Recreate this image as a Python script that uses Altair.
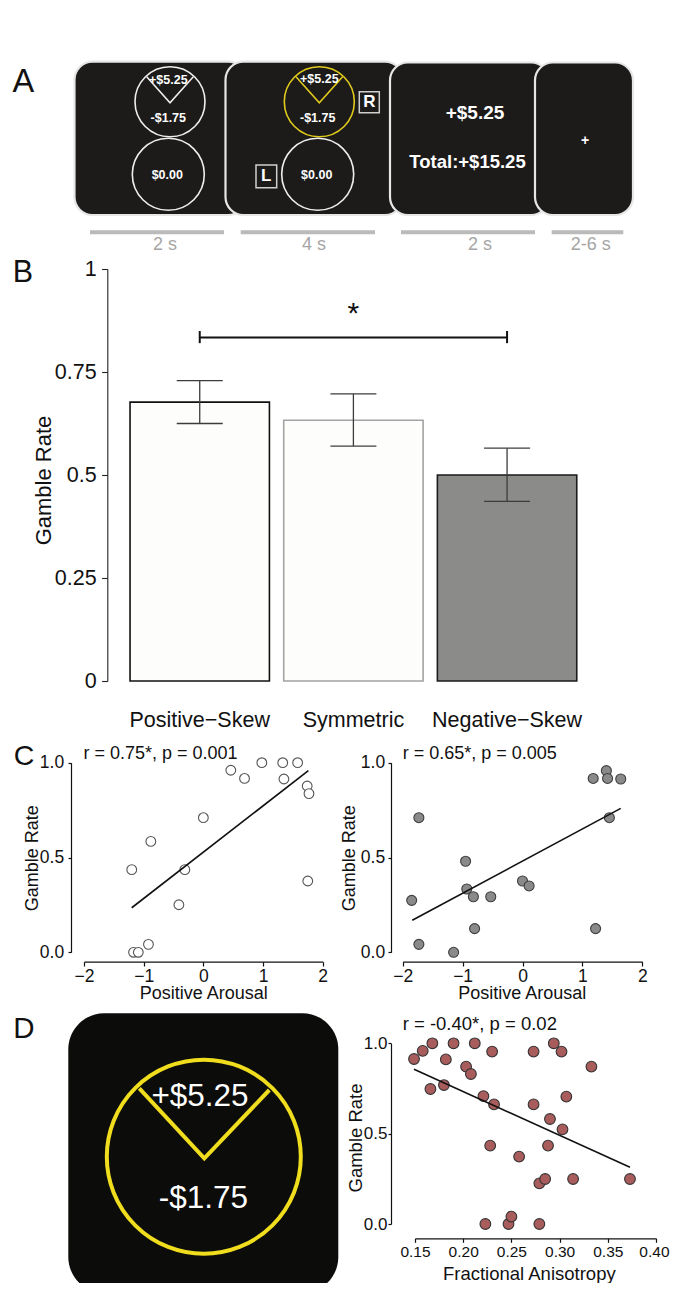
import altair as alt
import pandas as pd

FONT = "Liberation Sans, Arial, Helvetica, sans-serif"
INK = "#111111"

# Whole figure is one view: chart x = page x - 8, chart y = page y - 8
W, H = 662, 1275

# ---------------- panel letters (page pixel positions, baseline) ----------------
letter_text = ["A", "B", "C", "D"]
letter_x = [23.3, 23.0, 24.0, 24.0]
letter_base = [91.7, 281.7, 765.0, 1038.0]
letter_size = [32.5, 30.5, 28.5, 29.5]

# ---------------- panel A: trial schematic (page pixel positions) ----------------
screen_x0 = [74.5, 225.5, 390.0, 535.0]
screen_x1 = [246.0, 403.0, 549.0, 633.0]
screen_y0 = [61.7, 61.7, 62.5, 62.5]
screen_y1 = [215.0, 215.0, 215.0, 215.0]

wheel_x = [170.0, 168.3, 319.3, 317.7]
wheel_y = [101.7, 174.3, 101.7, 174.3]
wheel_d = [70.0, 72.0, 70.0, 72.0]
wheel_col = ["#eeeeee", "#eeeeee", "#e0ca1c", "#eeeeee"]

wedge_id = [0, 0, 0, 1, 1, 1]
wedge_ord = [0, 1, 2, 0, 1, 2]
wedge_x = [146.7, 170.0, 193.3, 296.0, 319.3, 342.6]
wedge_y = [76.7, 102.7, 76.7, 76.7, 102.7, 76.7]
wedge_col = ["#eeeeee"] * 3 + ["#e0ca1c"] * 3

key_x0 = [359.3, 256.0]
key_x1 = [379.3, 276.7]
key_y0 = [91.7, 165.0]
key_y1 = [112.7, 187.7]

a_text = ["+$5.25", "-$1.75", "$0.00", "+$5.25", "-$1.75", "$0.00", "R", "L",
          "+$5.25", "Total:+$15.25", "+"]
a_text_x = [168.3, 168.3, 167.3, 319.3, 317.7, 316.7, 369.3, 266.3, 475.0, 467.5, 585.0]
a_text_y = [80.0, 118.3, 175.0, 79.3, 118.0, 175.0, 102.2, 176.3, 113.3, 161.7, 140.7]
a_text_size = [12.5, 12.5, 12.5, 12.5, 12.5, 12.5, 17.0, 17.0, 19.0, 18.5, 14.0]

dur_x0 = [90.0, 240.7, 401.0, 551.7]
dur_x1 = [224.0, 375.0, 535.0, 623.3]
dur_y = [232.3, 232.3, 232.3, 232.3]
dur_label = ["2 s", "4 s", "2 s", "2-6 s"]
dur_label_x = [165.0, 314.0, 480.0, 590.7]
dur_label_y = [245.0, 245.0, 245.0, 245.0]

# ---------------- panel B: gamble rate by skew ----------------
cats = ["Positive\u2212Skew", "Symmetric", "Negative\u2212Skew"]
gamble_rate = [0.677, 0.633, 0.500]
sem_low = [0.625, 0.570, 0.436]
sem_high = [0.729, 0.697, 0.565]
bar_fill = ["#fdfdfb", "#fdfdfb", "#8b8c8a"]
bar_stroke = ["#111111", "#a3a3a3", "#1a1a1a"]
bracket_y = 0.834
bracket_end_lo = 0.820
bracket_end_hi = 0.8495
star_y = 0.868

# ---------------- panel C: positive arousal vs gamble rate ----------------
c1_arousal = [-1.20, -1.17, -1.09, -0.92, -0.88, -0.41, -0.31, 0.00, 0.46, 0.69,
              0.98, 1.33, 1.35, 1.58, 1.74, 1.77, 1.75]
c1_gamble = [0.436, 0.0, 0.0, 0.042, 0.585, 0.251, 0.436, 0.710, 0.960, 0.917,
             1.0, 1.0, 0.914, 1.0, 0.877, 0.837, 0.376]
c1_fit_x = [-1.20, 1.76]
c1_fit_y = [0.235, 0.958]

c2_arousal = [-1.85, -1.73, -1.73, -1.15, -0.95, -0.93, -0.82, -0.80, -0.53, 0.00,
              0.11, 1.18, 1.22, 1.40, 1.42, 1.64, 1.45]
c2_gamble = [0.274, 0.710, 0.042, 0.0, 0.480, 0.334, 0.293, 0.125, 0.293, 0.376,
             0.350, 0.917, 0.125, 0.958, 0.917, 0.914, 0.710]
c2_fit_x = [-1.84, 1.64]
c2_fit_y = [0.169, 0.759]

# ---------------- panel D: fractional anisotropy vs gamble rate ----------------
d_fa = [0.149, 0.158, 0.168, 0.166, 0.182, 0.180, 0.190, 0.203, 0.208, 0.212,
        0.221, 0.230, 0.232, 0.228, 0.223, 0.247, 0.250, 0.258, 0.273, 0.273,
        0.279, 0.279, 0.285, 0.288, 0.290, 0.294, 0.302, 0.303, 0.307, 0.314,
        0.333, 0.373]
d_gamble = [0.913, 0.958, 1.0, 0.747, 0.911, 0.769, 1.0, 0.871, 0.830, 1.0,
            0.708, 0.954, 0.662, 0.434, 0.0, 0.0, 0.041, 0.373, 0.954, 0.662,
            0.0, 0.225, 0.249, 0.434, 0.581, 1.0, 0.954, 0.524, 0.705, 0.249,
            0.871, 0.249]
d_fit_x = [0.149, 0.373]
d_fit_y = [0.856, 0.314]

# D stimulus illustration (page pixel positions)
dbox = [68.3, 338.3, 1013.3, 1293.0]
dwheel = [203.8, 1156.7, 194.0]
dwedge_x = [139.3, 204.3, 269.3]
dwedge_y = [1088.3, 1158.3, 1090.0]
d_text = ["+$5.25", "-$1.75"]
d_text_x = [200.0, 203.3]
d_text_y = [1096.5, 1198.5]

# ---------------- page scales for illustrations ----------------
PXS = alt.Scale(domain=[8, 8 + W], range=[0, W], nice=False, zero=False)
PYS = alt.Scale(domain=[8, 8 + H], range=[0, H], nice=False, zero=False)
PX = lambda f: alt.X(f"{f}:Q", scale=PXS, axis=None)
PY = lambda f: alt.Y(f"{f}:Q", scale=PYS, axis=None)

screens = alt.Chart(pd.DataFrame({"x0": screen_x0, "x1": screen_x1, "y0": screen_y0, "y1": screen_y1})).mark_rect(
    fill="#1c1b1a", stroke="#e6e6e6", strokeWidth=2.2, cornerRadius=18).encode(
    x=PX("x0"), x2="x1", y=PY("y0"), y2="y1")
wheels = alt.Chart(pd.DataFrame({"x": wheel_x, "y": wheel_y, "s": [d * d for d in wheel_d], "c": wheel_col})).mark_point(
    shape="circle", filled=False, strokeWidth=1.6, opacity=1).encode(
    x=PX("x"), y=PY("y"), size=alt.Size("s:Q", scale=None), stroke=alt.Stroke("c:N", scale=None))
wedges = alt.Chart(pd.DataFrame({"x": wedge_x, "y": wedge_y, "g": wedge_id, "o": wedge_ord, "c": wedge_col})).mark_line(
    strokeWidth=1.6).encode(x=PX("x"), y=PY("y"), detail="g:N", order=alt.Order("o:Q"),
                            stroke=alt.Stroke("c:N", scale=None))
keys = alt.Chart(pd.DataFrame({"x0": key_x0, "x1": key_x1, "y0": key_y0, "y1": key_y1})).mark_rect(
    fill="#1c1b1a", stroke="#d0d0d0", strokeWidth=1.5).encode(x=PX("x0"), x2="x1", y=PY("y0"), y2="y1")
textA = alt.Chart(pd.DataFrame({"x": a_text_x, "y": a_text_y, "t": a_text, "fs": a_text_size})).mark_text(
    font=FONT, fontWeight="bold", color="white", baseline="middle", align="center").encode(
    x=PX("x"), y=PY("y"), text="t:N", size=alt.Size("fs:Q", scale=None))
dur = alt.Chart(pd.DataFrame({"x0": dur_x0, "x1": dur_x1, "y": dur_y})).mark_rule(
    color="#bababa", strokeWidth=4).encode(x=PX("x0"), x2="x1", y=PY("y"))
durLab = alt.Chart(pd.DataFrame({"x": dur_label_x, "y": dur_label_y, "t": dur_label})).mark_text(
    font=FONT, fontSize=18, color="#a5a5a5", baseline="middle", align="center").encode(
    x=PX("x"), y=PY("y"), text="t:N")
letters = alt.Chart(pd.DataFrame({"x": letter_x, "y": letter_base, "t": letter_text, "fs": letter_size})).mark_text(
    font=FONT, color=INK, baseline="alphabetic", align="center").encode(
    x=PX("x"), y=PY("y"), text="t:N", size=alt.Size("fs:Q", scale=None))
dboxL = alt.Chart(pd.DataFrame({"x0": [dbox[0]], "x1": [dbox[1]], "y0": [dbox[2]], "y1": [dbox[3]]})).mark_rect(
    fill="#0c0c0a", cornerRadius=36).encode(x=PX("x0"), x2="x1", y=PY("y0"), y2="y1")
dwheelL = alt.Chart(pd.DataFrame({"x": [dwheel[0]], "y": [dwheel[1]], "s": [dwheel[2] * dwheel[2]]})).mark_point(
    shape="circle", filled=False, stroke="#f0de1e", strokeWidth=4, opacity=1).encode(
    x=PX("x"), y=PY("y"), size=alt.Size("s:Q", scale=None))
dwedgeL = alt.Chart(pd.DataFrame({"x": dwedge_x, "y": dwedge_y, "o": [0, 1, 2]})).mark_line(
    color="#f0de1e", strokeWidth=4).encode(x=PX("x"), y=PY("y"), order=alt.Order("o:Q"))
dtextL = alt.Chart(pd.DataFrame({"x": d_text_x, "y": d_text_y, "t": d_text})).mark_text(
    font=FONT, fontSize=31.5, color="white", baseline="middle", align="center").encode(
    x=PX("x"), y=PY("y"), text="t:N")
illustration = alt.layer(screens, wheels, wedges, keys, textA, dur, durLab, letters,
                         dboxL, dwheelL, dwedgeL, dtextL)


def cx(px_):  # page x -> chart x
    return px_ - 8


def cy(py_):  # page y -> chart y
    return py_ - 8


# ---------------- panel B ----------------
xB = alt.X("cat:N", sort=cats,
           scale=alt.Scale(domain=cats, range=[cx(122.9), cx(583.9)], paddingInner=0.093, paddingOuter=0.0465),
           axis=alt.Axis(orient="bottom", offset=cy(681) - H, title=None, domain=False, ticks=False,
                         labelAngle=0, labelFontSize=21.5, labelPadding=28.7, labelColor=INK,
                         labelFont=FONT, labelLimit=300))
yScaleB = alt.Scale(domain=[0, 1], range=[cy(681), cy(269)], nice=False, zero=True)
yAxisB = alt.Axis(orient="left", offset=-cx(107.3), values=[0, 0.25, 0.5, 0.75, 1], format=".2~f",
                  title="Gamble Rate", tickSize=5.7, labelPadding=5.5, labelFontSize=21.5, labelFont=FONT,
                  labelColor=INK, domainColor="#222222", tickColor="#222222", domainWidth=1.1, tickWidth=1.1,
                  titleFontSize=22, titleFont=FONT, titleFontWeight="normal", titleColor=INK,
                  titleX=-64.3, titleY=cy(480), titleAngle=270, titleBaseline="middle",
                  grid=False, labelFlush=False, labelOverlap=False)
YB = lambda f: alt.Y(f"{f}:Q", scale=yScaleB, axis=yAxisB)

dfB = pd.DataFrame({"cat": cats, "rate": gamble_rate, "lo": sem_low, "hi": sem_high,
                    "fill": bar_fill, "stroke": bar_stroke})
barsB = alt.Chart(dfB).mark_bar(strokeWidth=1.6).encode(
    x=xB, y=YB("rate"), fill=alt.Fill("fill:N", scale=None), stroke=alt.Stroke("stroke:N", scale=None))
errB = alt.Chart(dfB).mark_rule(color="#3c3c3c", strokeWidth=1.3).encode(x=xB, y=YB("lo"), y2="hi")
capsB = alt.Chart(pd.DataFrame({"cat": cats + cats, "v": sem_low + sem_high})).mark_tick(
    size=46, thickness=1.3, color="#3c3c3c", opacity=1).encode(x=xB, y=YB("v"))
brB = alt.Chart(pd.DataFrame({"cat": [cats[0], cats[2]], "v": [bracket_y, bracket_y]})).mark_line(
    color=INK, strokeWidth=2).encode(x=xB, y=YB("v"))
brEndB = alt.Chart(pd.DataFrame({"cat": [cats[0], cats[2]], "v0": [bracket_end_lo] * 2,
                                 "v1": [bracket_end_hi] * 2})).mark_rule(color=INK, strokeWidth=2).encode(
    x=xB, y=YB("v0"), y2="v1")
starB = alt.Chart(pd.DataFrame({"cat": [cats[1]], "v": [star_y], "t": ["*"]})).mark_text(
    font=FONT, fontSize=30, color=INK, baseline="alphabetic", align="center").encode(
    x=xB, y=YB("v"), text="t:N")
panelB = alt.layer(barsB, errB, capsB, brB, brEndB, starB)


# ---------------- scatter helper ----------------
def scatter(xv, yv, fx, fy, ann, ann_x, ann_y, xdom, xrng, yrng, xvals, xfmt, xtitle,
            xaxis_y, yaxis_x, ytick, ylpad, xtick, xlpad, xlab_fs, ylab_fs, title_fs, ann_fs,
            ytitle_x, ytitle_y, xtitle_x, xtitle_y, pfill, pstroke, psize, last_label_right=None):
    common = dict(labelFont=FONT, titleFont=FONT, labelColor=INK, titleColor=INK,
                  domainColor=INK, tickColor=INK, domainWidth=1.2, tickWidth=1.2,
                  titleFontWeight="normal", grid=False, labelFlush=False, labelOverlap=False)
    xkw = dict(orient="bottom", offset=cy(xaxis_y) - H, values=xvals, format=xfmt, title=xtitle,
               tickSize=xtick, labelPadding=xlpad, labelFontSize=xlab_fs, titleFontSize=title_fs,
               titleX=cx(xtitle_x), titleY=xtitle_y, titleBaseline="middle", **common)
    if last_label_right is not None:
        test = f"datum.value >= {last_label_right}"
        xkw["labelAlign"] = {"condition": {"test": test, "value": "right"}, "value": "center"}
        xkw["labelOffset"] = {"condition": {"test": test, "value": 13}, "value": 0}
    xax = alt.Axis(**xkw)
    yax = alt.Axis(orient="left", offset=-cx(yaxis_x), values=[0, 0.5, 1], format=".1f", title="Gamble Rate",
                   tickSize=ytick, labelPadding=ylpad, labelFontSize=ylab_fs,
                   titleFontSize=title_fs, titleX=ytitle_x, titleY=cy(ytitle_y), titleAngle=270,
                   titleBaseline="middle", **common)
    xsc = alt.Scale(domain=xdom, range=[cx(xrng[0]), cx(xrng[1])], nice=False, zero=False)
    ysc = alt.Scale(domain=[0, 1], range=[cy(yrng[0]), cy(yrng[1])], nice=False, zero=False)
    X = lambda f: alt.X(f"{f}:Q", scale=xsc, axis=xax)
    Y = lambda f: alt.Y(f"{f}:Q", scale=ysc, axis=yax)
    pts = alt.Chart(pd.DataFrame({"x": xv, "y": yv})).mark_point(
        shape="circle", filled=True, fill=pfill, stroke=pstroke, strokeWidth=1.1,
        size=psize, opacity=1).encode(x=X("x"), y=Y("y"))
    fit = alt.Chart(pd.DataFrame({"x": fx, "y": fy})).mark_line(color=INK, strokeWidth=1.6).encode(
        x=X("x"), y=Y("y"))
    txt = alt.Chart(pd.DataFrame({"x": [ann_x], "y": [ann_y], "t": [ann]})).mark_text(
        align="left", baseline="middle", fontSize=ann_fs, font=FONT, color=INK).encode(
        x=X("x"), y=Y("y"), text="t:N")
    return alt.layer(pts, fit, txt)


chartC1 = scatter(c1_arousal, c1_gamble, c1_fit_x, c1_fit_y, "r = 0.75*, p = 0.001", -2.01, 1.044,
                  [-2, 2], [84, 322.7], [952.3, 762.7], [-2, -1, 0, 1, 2], "d", "Positive Arousal",
                  961.7, 71, 3, 4.3, 4.3, 1.0, 17.5, 17.5, 18, 18,
                  -38.3, 857.7, 203.3, 32, "white", "#555555", 95)
chartC2 = scatter(c2_arousal, c2_gamble, c2_fit_x, c2_fit_y, "r = 0.65*, p = 0.005", -2.0, 1.044,
                  [-2, 2], [402.7, 642.3], [952.3, 762.7], [-2, -1, 0, 1, 2], "d", "Positive Arousal",
                  961.7, 391, 3, 3.3, 4.3, 1.0, 17.5, 17.5, 18, 18,
                  -42, 857.7, 521.7, 32, "#8a8a8a", "#3f3f3f", 100)
chartD2 = scatter(d_fa, d_gamble, d_fit_x, d_fit_y, "r = -0.40*, p = 0.02", 0.1372, 1.105,
                  [0.15, 0.40], [415, 656], [1224, 1043.3], [0.15, 0.20, 0.25, 0.30, 0.35, 0.40], ".2f",
                  "Fractional Anisotropy",
                  1238.3, 391, 3, 1, 4, 2.5, 15.5, 17, 18.5, 18.5,
                  -36, 1137.5, 528.8, 35, "#a95c5c", "#333333", 115, last_label_right=0.399)

chart = alt.layer(illustration, panelB, chartC1, chartC2, chartD2).resolve_scale(
    x="independent", y="independent").resolve_axis(x="independent", y="independent").properties(
    width=W, height=H, padding=0, autosize=alt.AutoSizeParams(type="none")).configure_view(stroke=None)

chart.save("out.html", embed_options={"renderer": "svg", "actions": False})
